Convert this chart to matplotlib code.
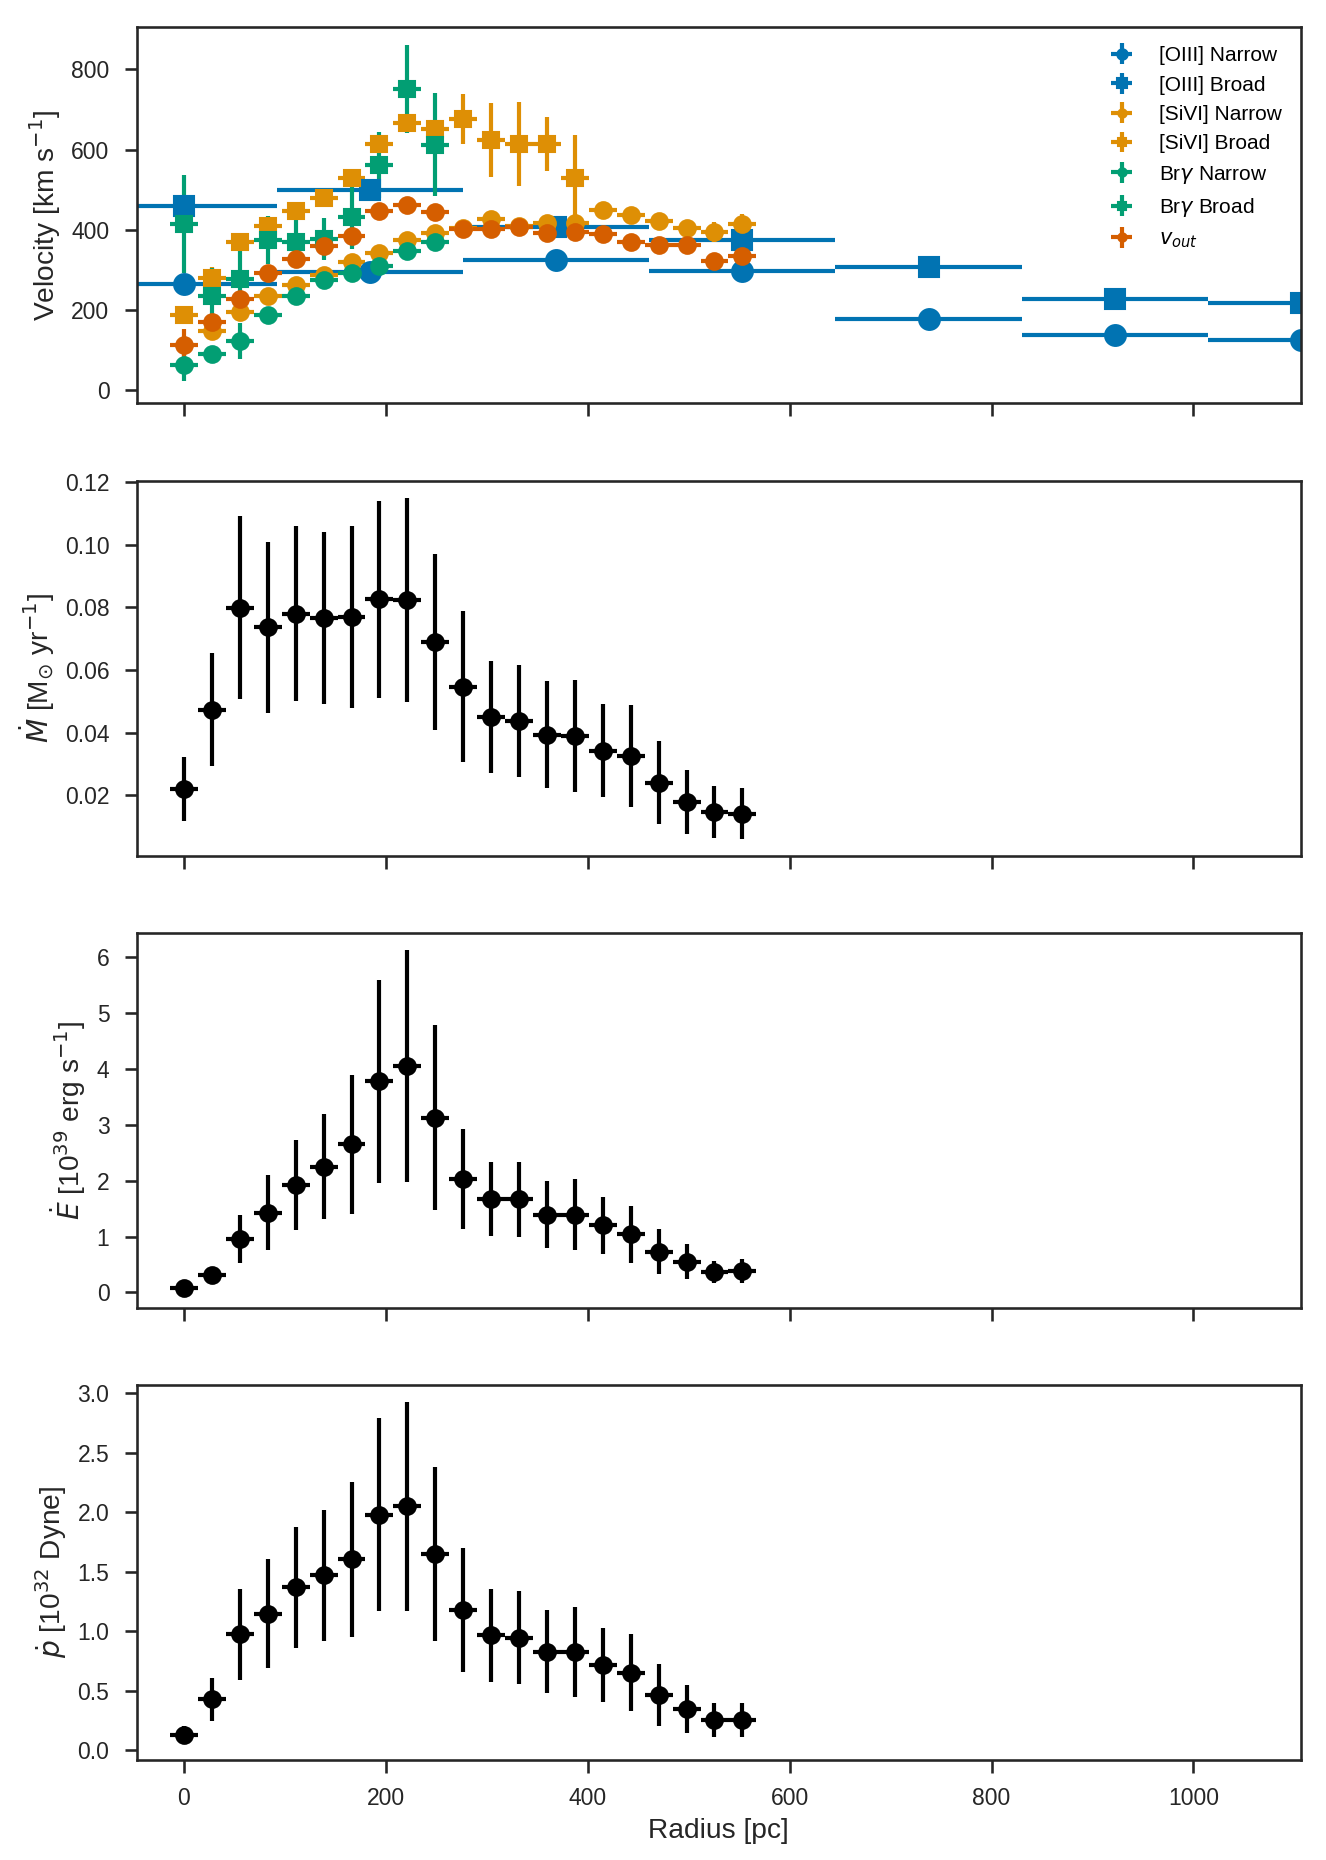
import numpy as np
import matplotlib
matplotlib.use("Agg")
import matplotlib.pyplot as plt

plt.rcParams["font.family"] = ["Liberation Sans", "DejaVu Sans"]
plt.rcParams.update({"font.size": 11})
plt.rcParams["axes.edgecolor"] = ".15"
plt.rcParams["axes.linewidth"] = 1.25
plt.rcParams["axes.labelcolor"] = ".15"
plt.rcParams["xtick.color"] = ".15"
plt.rcParams["ytick.color"] = ".15"
plt.rcParams["xtick.major.size"] = 6
plt.rcParams["ytick.major.size"] = 6
plt.rcParams["xtick.major.width"] = 1.25
plt.rcParams["ytick.major.width"] = 1.25
plt.rcParams["xtick.major.pad"] = 7
plt.rcParams["ytick.major.pad"] = 7
plt.rcParams["xtick.labelsize"] = 11
plt.rcParams["ytick.labelsize"] = 11
plt.rcParams["axes.labelsize"] = 13.5

# colorblind palette
c_blue, c_orange, c_green, c_red = "#0173b2", "#de8f05", "#029e73", "#d55e00"

# radial bins (pc)
radius = [0, 27.7, 55.3, 83.0, 110.6, 138.3, 166.0, 193.6, 221.3, 248.9, 276.6,
          304.3, 331.9, 359.6, 387.2, 414.9, 442.6, 470.2, 497.9, 525.5, 553.2]
r_err = 13.8
radius_oiii = [0, 184.4, 368.8, 553.2, 737.6, 922.0, 1106.4]
r_err_oiii = 92.2

# velocities (km/s)
oiii_narrow = [265, 294, 324, 297, 176, 136, 124]
oiii_broad = [458, 500, 406, 374, 306, 226, 217]
oiii_err = [8, 8, 8, 8, 8, 8, 8]

sivi_narrow = [146, 194, 235, 262, 287, 319, 342, 375, 391, 404,
               426, 410, 417, 417, 449, 437, 422, 405, 393, 414]
sivi_narrow_err = [10, 10, 10, 10, 10, 10, 10, 10, 10, 10,
                   12, 12, 12, 12, 12, 12, 15, 15, 25, 25]
sivi_broad = [188, 279, 370, 409, 447, 480, 528, 613, 667, 650, 676, 624, 614, 614, 530]
sivi_broad_err = [12, 28, 15, 15, 15, 15, 15, 18, 20, 18, 62, 92, 105, 68, 106]

brg_narrow = [63, 90, 122, 187, 235, 275, 291, 308, 347, 370]
brg_narrow_err = [40, 12, 46, 15, 10, 10, 10, 10, 10, 10]
brg_broad = [414, 234, 277, 374, 370, 377, 432, 561, 750, 612]
brg_broad_err = [122, 70, 72, 61, 54, 52, 80, 82, 110, 129]

v_out = [111, 169, 228, 291, 326, 358, 385, 447, 462, 445, 401,
         401, 406, 391, 393, 388, 370, 362, 362, 322, 334]
v_out_err = [40, 10, 10, 10, 10, 10, 10, 10, 10, 10, 10,
             10, 10, 10, 10, 10, 10, 10, 10, 10, 10]

# outflow rates
mdot = [0.0221, 0.0473, 0.0799, 0.0736, 0.0780, 0.0765, 0.0769, 0.0826, 0.0824, 0.0689, 0.0547,
        0.0449, 0.0436, 0.0394, 0.0389, 0.0343, 0.0325, 0.0240, 0.0179, 0.0147, 0.0142]
mdot_err = [0.0103, 0.0180, 0.0292, 0.0274, 0.0280, 0.0274, 0.0291, 0.0314, 0.0326, 0.0280, 0.0240,
            0.0179, 0.0179, 0.0170, 0.0178, 0.0148, 0.0163, 0.0133, 0.0103, 0.0083, 0.0081]
edot = [0.07, 0.32, 0.95, 1.43, 1.92, 2.25, 2.65, 3.78, 4.05, 3.13, 2.03,
        1.67, 1.67, 1.39, 1.39, 1.20, 1.04, 0.73, 0.55, 0.36, 0.38]
edot_err = [0.05, 0.08, 0.43, 0.67, 0.81, 0.94, 1.25, 1.82, 2.08, 1.65, 0.89,
            0.66, 0.67, 0.60, 0.64, 0.51, 0.51, 0.40, 0.31, 0.20, 0.21]
pdot = [0.134, 0.43, 0.975, 1.15, 1.37, 1.47, 1.605, 1.98, 2.05, 1.65, 1.18,
        0.966, 0.947, 0.83, 0.826, 0.717, 0.653, 0.465, 0.35, 0.255, 0.255]
pdot_err = [0.07, 0.18, 0.38, 0.46, 0.51, 0.55, 0.65, 0.81, 0.88, 0.73, 0.52,
            0.39, 0.39, 0.35, 0.38, 0.31, 0.325, 0.26, 0.20, 0.14, 0.14]

fig = plt.figure(figsize=(1327 / 150, 1860 / 150), dpi=150)
left, width = 0.1029, 0.8774
bottoms = [0.7835, 0.5398, 0.2966, 0.0538]
height = 0.2018
ax1 = fig.add_axes([left, bottoms[0], width, height])
ax2 = fig.add_axes([left, bottoms[1], width, height], sharex=ax1)
ax3 = fig.add_axes([left, bottoms[2], width, height], sharex=ax1)
ax4 = fig.add_axes([left, bottoms[3], width, height], sharex=ax1)

kw = dict(elinewidth=2, capsize=0, linestyle="none")

# velocity panel
ax1.errorbar(radius_oiii, oiii_narrow, xerr=r_err_oiii, yerr=oiii_err, fmt="o", ms=10,
             color=c_blue, label="[OIII] Narrow", **kw)
ax1.errorbar(radius_oiii, oiii_broad, xerr=r_err_oiii, yerr=oiii_err, fmt="s", ms=10,
             color=c_blue, label="[OIII] Broad", **kw)
ax1.errorbar(radius[1:], sivi_narrow, xerr=r_err, yerr=sivi_narrow_err, fmt="o", ms=8,
             color=c_orange, label="[SiVI] Narrow", **kw)
ax1.errorbar(radius[:len(sivi_broad)], sivi_broad, xerr=r_err, yerr=sivi_broad_err, fmt="s", ms=8,
             color=c_orange, label="[SiVI] Broad", **kw)
ax1.errorbar(radius[:len(brg_narrow)], brg_narrow, xerr=r_err, yerr=brg_narrow_err, fmt="o", ms=8,
             color=c_green, label=r"Br$\gamma$ Narrow", **kw)
ax1.errorbar(radius[:len(brg_broad)], brg_broad, xerr=r_err, yerr=brg_broad_err, fmt="s", ms=8,
             color=c_green, label=r"Br$\gamma$ Broad", **kw)
ax1.errorbar(radius, v_out, xerr=r_err, yerr=v_out_err, fmt="o", ms=8,
             color=c_red, label=r"$v_{out}$", **kw)
ax1.set_ylabel(r"Velocity [km s$^{-1}$]")
ax1.set_ylim(-32, 905)
ax1.legend(loc="upper right", frameon=False, fontsize=10, markerscale=0.5)

ax2.errorbar(radius, mdot, xerr=r_err, yerr=mdot_err, fmt="o", ms=8, color="black", **kw)
ax2.set_ylabel(r"$\dot{M}$ [M$_{\odot}$ yr$^{-1}$]")

ax3.errorbar(radius, edot, xerr=r_err, yerr=edot_err, fmt="o", ms=8, color="black", **kw)
ax3.set_ylabel(r"$\dot{E}$ [10$^{39}$ erg s$^{-1}$]")

ax4.errorbar(radius, pdot, xerr=r_err, yerr=pdot_err, fmt="o", ms=8, color="black", **kw)
ax4.set_ylabel(r"$\dot{p}$ [10$^{32}$ Dyne]")
ax4.set_xlabel("Radius [pc]")

ax1.set_xlim(-47, 1106.4)
ax1.set_xticks([0, 200, 400, 600, 800, 1000])
for ax in (ax1, ax2, ax3):
    ax.tick_params(labelbottom=False)

fig.savefig("out.png", dpi=150)
